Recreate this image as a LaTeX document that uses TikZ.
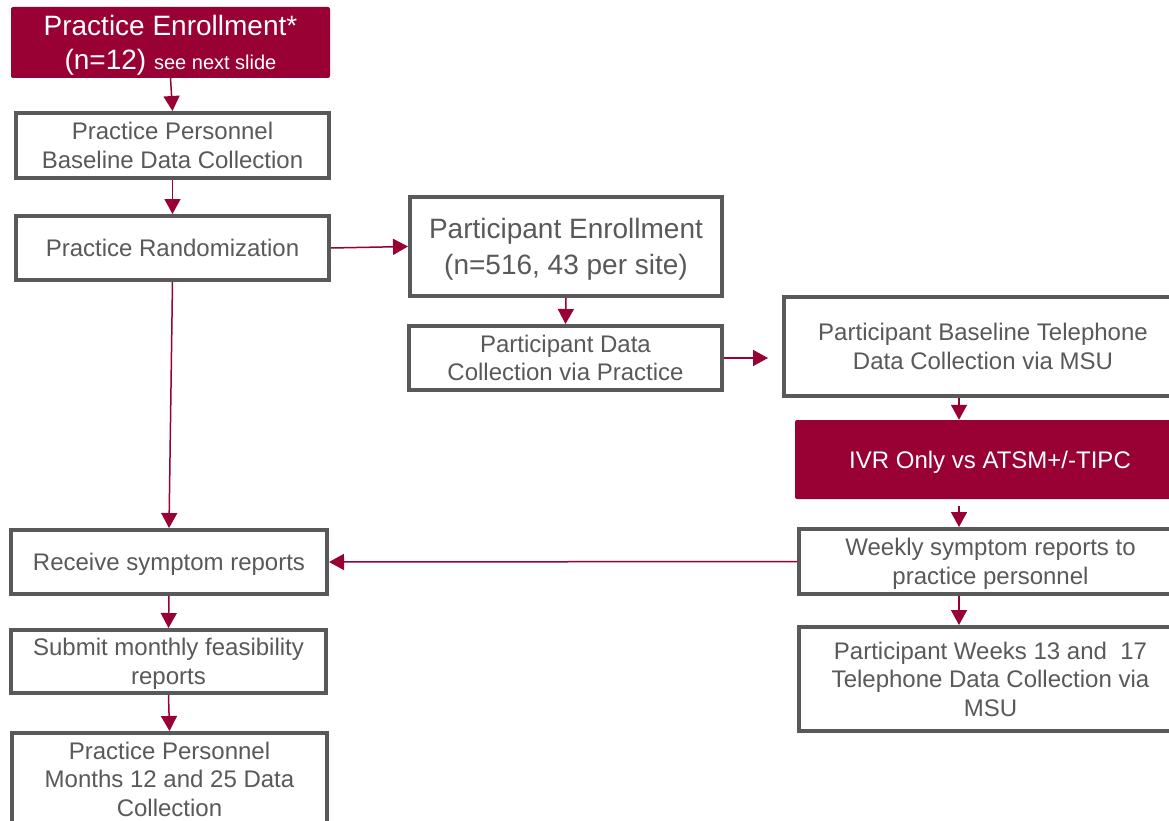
\documentclass[tikz,border=0pt]{standalone}
\usepackage{fontspec}
\setmainfont{Liberation Sans}
\usetikzlibrary{arrows.meta,calc}
\definecolor{maroon}{RGB}{153,0,51}
\definecolor{boxgray}{RGB}{89,89,89}
\definecolor{txtgray}{RGB}{89,89,89}
\tikzset{
  box/.style={rectangle, draw=boxgray, line width=4pt, fill=white, text=txtgray,
    align=center, inner sep=0pt, text depth=0pt, font=\fontsize{24}{28.5}\selectfont},
  redbox/.style={rectangle, fill=maroon, text=white, align=center, inner sep=0pt,
    text depth=0pt, rounded corners=2pt},
  arr/.style={draw=maroon, line width=1.5pt, -{Triangle[length=15pt,width=16pt]}}
}
\begin{document}
\begin{tikzpicture}[x=1pt,y=-1pt]
\useasboundingbox (0,0) rectangle (1169,821);
\clip (0,0) rectangle (1169,821);
\fill[white] (0,0) rectangle (1169,821);
% left column
\node[redbox, minimum width=319pt, minimum height=71pt, font=\fontsize{28}{34}\selectfont]
  (pe) at (170.5,42.5) {Practice Enrollment*\\(n=12) {\fontsize{20}{24}\selectfont see next slide}};
\node[box, minimum width=313pt, minimum height=65pt] (ppb) at (172.5,145.5)
  {Practice Personnel\\Baseline Data Collection};
\node[box, minimum width=313pt, minimum height=64pt] (pr) at (172.5,248)
  {Practice Randomization};
\node[box, minimum width=316pt, minimum height=64pt] (rs) at (169,562)
  {Receive symptom reports};
\node[box, minimum width=315pt, minimum height=63pt] (sm) at (168.5,661.5)
  {Submit monthly feasibility\\reports};
\node[box, minimum width=315pt, minimum height=92pt] (pm) at (169.5,779)
  {Practice Personnel\\Months 12 and 25 Data\\Collection};
% middle column
\node[box, minimum width=312pt, minimum height=99pt, font=\fontsize{28}{36}\selectfont]
  (pen) at (566,246.5) {Participant Enrollment\\(n=516, 43 per site)};
\node[box, minimum width=313pt, minimum height=64pt] (pdc) at (565.5,358)
  {Participant Data\\Collection via Practice};
% right column
\node[box, minimum width=398pt, minimum height=99pt] (pbt) at (983,346.5)
  {Participant Baseline Telephone\\Data Collection via MSU};
\node[redbox, minimum width=390pt, minimum height=79pt, font=\fontsize{24}{28.5}\selectfont]
  (ivr) at (990,459.5) {IVR Only vs ATSM+/-TIPC};
\node[box, minimum width=383pt, minimum height=65pt] (wk) at (990.5,561.5)
  {Weekly symptom reports to\\practice personnel};
\node[box, minimum width=383pt, minimum height=104pt] (w13) at (990.5,679)
  {Participant Weeks 13 and~~17\\Telephone Data Collection via\\MSU};
\coordinate (cx) at (959,0);
% connectors
\draw[arr] (pe.south) -- (ppb.north);
\draw[arr] (ppb.south) -- (pr.north);
\draw[arr] (pr.east) -- (pen.west);
\draw[arr] (pr.south) -- (rs.north);
\draw[arr] (pen.south) -- (pdc.north);
\draw[arr, shorten >=14pt] (pdc.east) -- (pdc.east -| pbt.west);
\draw[arr] (pbt.south -| cx) -- (ivr.north -| cx);
\draw[arr, shorten <=7pt] (ivr.south -| cx) -- (wk.north -| cx);
\draw[arr] (wk.south -| cx) -- (w13.north -| cx);
\draw[arr] (wk.west) -- (rs.east);
\draw[arr] (rs.south) -- (sm.north);
\draw[arr] (sm.south) -- (pm.north);
\end{tikzpicture}
\end{document}
